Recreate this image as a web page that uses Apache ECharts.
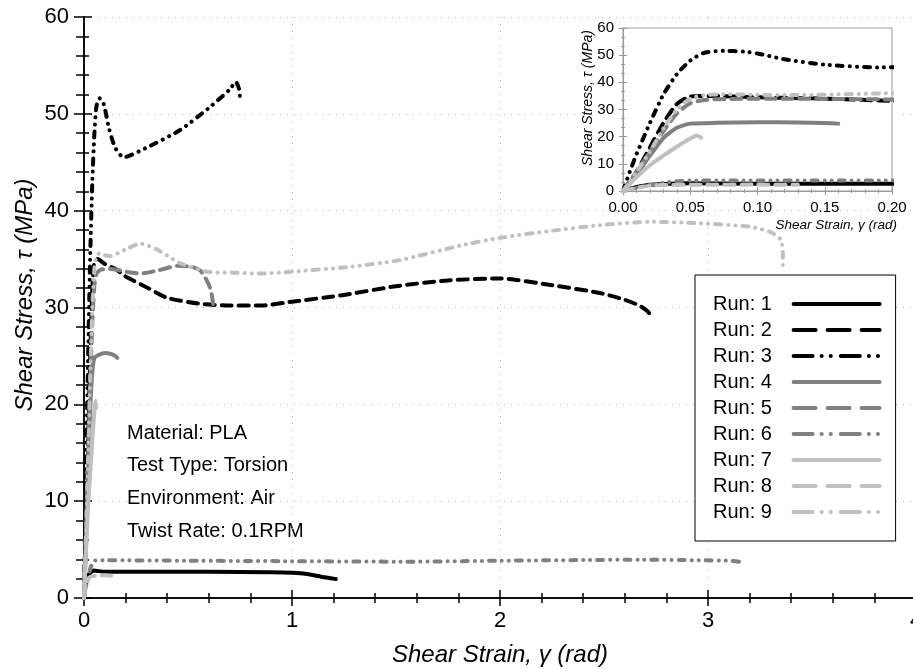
<!DOCTYPE html>
<html>

<head>
    <meta charset="utf-8" />
    <title>PLA torsion</title>
    <script src="https://cdn.jsdelivr.net/npm/echarts@6/dist/echarts.min.js"></script>
</head>

<body style="margin:0">
    <div id="main" style="width: 913px;height:669px;"></div>
    <script type="text/javascript">
        // [shear strain (rad), shear stress (MPa)]
        var run1 = [[0, 0], [0.005, 0.8], [0.01, 1.5], [0.02, 2.3], [0.03, 2.6], [0.045, 2.85], [0.1, 2.7], [0.3, 2.7], [0.6, 2.7], [0.9, 2.65], [1.0, 2.6], [1.08, 2.45], [1.14, 2.2], [1.2, 2.0], [1.21, 1.96]];
        var run2 = [[0, 0], [0.01, 7], [0.02, 16], [0.03, 25], [0.04, 32], [0.05, 34.8], [0.065, 35], [0.1, 34.5], [0.15, 34], [0.2, 33.2], [0.3, 32.1], [0.4, 31], [0.55, 30.4], [0.7, 30.2], [0.85, 30.2], [1.0, 30.6], [1.25, 31.3], [1.5, 32.2], [1.75, 32.8], [2.0, 33.0], [2.25, 32.3], [2.48, 31.5], [2.6, 30.8], [2.67, 30.2], [2.71, 29.6], [2.73, 29.0]];
        var run3 = [[0, 0], [0.005, 7], [0.01, 13.5], [0.02, 25], [0.03, 35.5], [0.04, 43], [0.05, 48], [0.06, 50.8], [0.075, 51.6], [0.09, 51.3], [0.1, 50.6], [0.12, 48.5], [0.15, 46.5], [0.19, 45.5], [0.3, 46.5], [0.46, 48.3], [0.6, 50.6], [0.7, 52.5], [0.73, 53.3], [0.745, 52.6], [0.75, 51.7]];
        var run4 = [[0, 0], [0.01, 6], [0.02, 13], [0.03, 19.5], [0.04, 23.3], [0.05, 24.8], [0.07, 25.1], [0.1, 25.3], [0.13, 25.2], [0.15, 25], [0.16, 24.8]];
        var run5 = [[0, 0], [0.01, 7], [0.02, 14.5], [0.03, 22], [0.04, 28.5], [0.05, 32.3], [0.06, 33.5], [0.08, 33.9], [0.12, 34], [0.2, 33.7], [0.27, 33.5], [0.35, 33.8], [0.45, 34.3], [0.52, 34.2], [0.56, 33.8], [0.59, 32.8], [0.61, 31.8], [0.62, 30.5], [0.622, 30]];
        var run6 = [[0, 0], [0.01, 1.2], [0.02, 2.2], [0.03, 3.0], [0.04, 3.6], [0.05, 3.85], [0.1, 3.9], [0.5, 3.85], [1.0, 3.8], [1.55, 3.75], [2.0, 3.85], [2.4, 3.92], [2.68, 3.96], [2.96, 3.9], [3.1, 3.85], [3.15, 3.73]];
        var run7 = [[0, 0], [0.01, 5], [0.02, 9.5], [0.03, 13], [0.04, 16.3], [0.05, 19.3], [0.055, 20.4], [0.058, 19.6]];
        var run8 = [[0, 0], [0.01, 1.2], [0.02, 1.9], [0.03, 2.2], [0.06, 2.3], [0.1, 2.35], [0.13, 2.3]];
        var run9 = [[0, 0], [0.01, 7], [0.02, 14.5], [0.03, 23], [0.04, 30], [0.05, 34], [0.06, 35.3], [0.075, 35.6], [0.1, 35.4], [0.125, 35.3], [0.2, 36], [0.27, 36.6], [0.35, 36], [0.46, 34.6], [0.59, 33.7], [0.72, 33.6], [0.85, 33.5], [1.0, 33.7], [1.28, 34.2], [1.52, 34.9], [1.81, 36.4], [2.0, 37.2], [2.24, 37.9], [2.48, 38.5], [2.72, 38.85], [2.96, 38.7], [3.2, 38.35], [3.3, 37.8], [3.35, 37], [3.36, 35.5], [3.36, 34.2]];

        var runs = [run1, run2, run3, run4, run5, run6, run7, run8, run9];
        var runNames = ['Run: 1', 'Run: 2', 'Run: 3', 'Run: 4', 'Run: 5', 'Run: 6', 'Run: 7', 'Run: 8', 'Run: 9'];
        var infoLines = ['Material: PLA', 'Test Type: Torsion', 'Environment: Air', 'Twist Rate: 0.1RPM'];

        var colors = ['#000', '#000', '#000', '#808080', '#808080', '#808080', '#c0c0c0', '#c0c0c0', '#c0c0c0'];
        // solid / dash / dash-dot-dot (round caps add to dash length)
        var dashPlot = ['solid', [10, 7], [6, 7, 0.1, 6.9, 0.1, 7]];
        var dashLegend = ['solid', [22, 12], [19, 9, 0.1, 9, 0.1, 10]];

        var FONT = 'Liberation Sans';
        var myChart = echarts.init(document.getElementById('main'));

        var series = [];
        var legendData = [];
        runs.forEach(function (d, i) {
            var style = { color: colors[i], width: 4, type: dashPlot[i % 3], cap: 'round', join: 'round' };
            series.push({
                name: runNames[i], type: 'line', data: d, xAxisIndex: 0, yAxisIndex: 0,
                symbol: 'none', smooth: 0.2, lineStyle: style, z: 2
            });
            series.push({
                name: runNames[i], type: 'line', data: d, xAxisIndex: 3, yAxisIndex: 3,
                symbol: 'none', smooth: 0.2, lineStyle: style, z: 6, clip: true
            });
            legendData.push({
                name: runNames[i],
                lineStyle: { color: colors[i], width: 4, type: dashLegend[i % 3], cap: 'round' },
                itemStyle: { opacity: 0 }
            });
        });

        var black = { color: '#000', width: 1.5 };
        var gray = { color: '#999', width: 1 };
        var dotted = { show: true, lineStyle: { color: '#bbb', type: [1, 6], width: 1 } };

        var graphics = [
            { type: 'rect', shape: { x: 578, y: 20, width: 320, height: 180 }, style: { fill: '#fff' }, z: 1, silent: true },
            {
                type: 'text', x: 25, y: 295, rotation: Math.PI / 2,
                style: { text: 'Shear Stress, τ (MPa)', font: 'italic 24px "Liberation Sans"', fill: '#000', textAlign: 'center', textVerticalAlign: 'middle' }
            },
            {
                type: 'text', x: 588, y: 98, rotation: Math.PI / 2, z: 7,
                style: { text: 'Shear Stress, τ (MPa)', font: 'italic 14px "Liberation Sans"', fill: '#000', textAlign: 'center', textVerticalAlign: 'middle' }
            },
            {
                type: 'text', x: 897, y: 225, z: 7,
                style: { text: 'Shear Strain, γ (rad)', font: 'italic 13.5px "Liberation Sans"', fill: '#000', textAlign: 'right', textVerticalAlign: 'middle' }
            }
        ];
        infoLines.forEach(function (t, i) {
            graphics.push({
                type: 'text', x: 127, y: 433 + i * 32.7,
                style: { text: t, font: '20px "Liberation Sans"', fill: '#000', textVerticalAlign: 'middle' }
            });
        });

        var option = {
            animation: false,
            backgroundColor: '#fff',
            textStyle: { fontFamily: FONT },
            grid: [
                { left: 84, width: 832, top: 17, height: 581, outerBoundsMode: 'none' },
                { left: 84, width: 832, top: 17, height: 581, outerBoundsMode: 'none' },
                { left: 623, top: 28, width: 269, height: 163, outerBoundsMode: 'none', show: true, borderColor: '#999', borderWidth: 1, z: 5 }
            ],
            xAxis: [
                {
                    gridIndex: 0, type: 'value', position: 'bottom', min: 0, max: 4, interval: 1,
                    axisLine: { lineStyle: black }, axisTick: { length: 8, lineStyle: black },
                    axisLabel: { fontSize: 22, color: '#000', margin: 12 }, splitLine: dotted,
                    name: 'Shear Strain, γ (rad)', nameLocation: 'middle', nameGap: 45,
                    nameTextStyle: { fontSize: 24, fontStyle: 'italic', color: '#000' }
                },
                {
                    gridIndex: 0, type: 'value', position: 'top', min: 0, max: 4, interval: 1,
                    axisLine: { lineStyle: black }, axisTick: { inside: true, length: 8, lineStyle: black },
                    minorTick: { show: true, splitNumber: 5, length: 5, lineStyle: black },
                    axisLabel: { show: false }, splitLine: { show: false }
                },
                {
                    gridIndex: 1, type: 'value', position: 'bottom', min: 0, max: 4, interval: 1,
                    axisLine: { show: false }, axisTick: { inside: true, length: 8, lineStyle: black },
                    minorTick: { show: true, splitNumber: 5, length: 5, lineStyle: black },
                    axisLabel: { show: false }, splitLine: { show: false }
                },
                {
                    gridIndex: 2, type: 'value', position: 'bottom', min: 0, max: 0.2, interval: 0.05, z: 5,
                    axisLine: { lineStyle: gray }, axisTick: { inside: true, length: 4, lineStyle: gray },
                    minorTick: { show: true, splitNumber: 5, length: 2, lineStyle: gray },
                    axisLabel: { fontSize: 15, color: '#000', margin: 9, formatter: function (v) { return v.toFixed(2); } },
                    splitLine: { show: false }
                },
                {
                    gridIndex: 2, type: 'value', position: 'top', min: 0, max: 0.2, interval: 0.05, z: 5,
                    axisLine: { lineStyle: gray }, axisTick: { inside: true, length: 4, lineStyle: gray },
                    minorTick: { show: true, splitNumber: 5, length: 2, lineStyle: gray },
                    axisLabel: { show: false }, splitLine: { show: false }
                }
            ],
            yAxis: [
                {
                    gridIndex: 0, type: 'value', position: 'left', min: 0, max: 60, interval: 10,
                    axisLine: { lineStyle: black }, axisTick: { length: 7, lineStyle: black },
                    axisLabel: { fontSize: 22, color: '#000', margin: 15 }, splitLine: dotted
                },
                {
                    gridIndex: 0, type: 'value', position: 'right', min: 0, max: 60, interval: 10,
                    axisLine: { lineStyle: black }, axisTick: { inside: true, length: 10, lineStyle: black },
                    minorTick: { show: true, splitNumber: 5, length: 8, lineStyle: black },
                    axisLabel: { show: false }, splitLine: { show: false }
                },
                {
                    gridIndex: 1, type: 'value', position: 'left', min: 0, max: 60, interval: 10,
                    axisLine: { show: false }, axisTick: { inside: true, length: 8, lineStyle: black },
                    minorTick: { show: true, splitNumber: 5, length: 5, lineStyle: black },
                    axisLabel: { show: false }, splitLine: { show: false }
                },
                {
                    gridIndex: 2, type: 'value', position: 'left', min: 0, max: 60, interval: 10, z: 5,
                    axisLine: { lineStyle: gray }, axisTick: { inside: true, length: 4, lineStyle: gray },
                    minorTick: { show: true, splitNumber: 3, length: 2, lineStyle: gray },
                    axisLabel: { fontSize: 15, color: '#000', margin: 9 }, splitLine: { show: false }
                },
                {
                    gridIndex: 2, type: 'value', position: 'right', min: 0, max: 60, interval: 10, z: 5,
                    axisLine: { lineStyle: gray }, axisTick: { inside: true, length: 4, lineStyle: gray },
                    minorTick: { show: true, splitNumber: 3, length: 2, lineStyle: gray },
                    axisLabel: { show: false }, splitLine: { show: false }
                }
            ],
            legend: {
                left: 695, top: 275, orient: 'vertical', align: 'right',
                itemWidth: 86, itemHeight: 12, itemGap: 6,
                padding: [19, 14, 19, 18],
                borderColor: '#000', borderWidth: 1, backgroundColor: '#fff',
                // trailing spaces open the gap between label and line sample
                formatter: function (name) { return name + '   '; },
                textStyle: { fontSize: 20, color: '#000', fontFamily: FONT },
                selectedMode: false,
                data: legendData
            },
            graphic: graphics,
            series: series
        };

        myChart.setOption(option);
    </script>
</body>

</html>
